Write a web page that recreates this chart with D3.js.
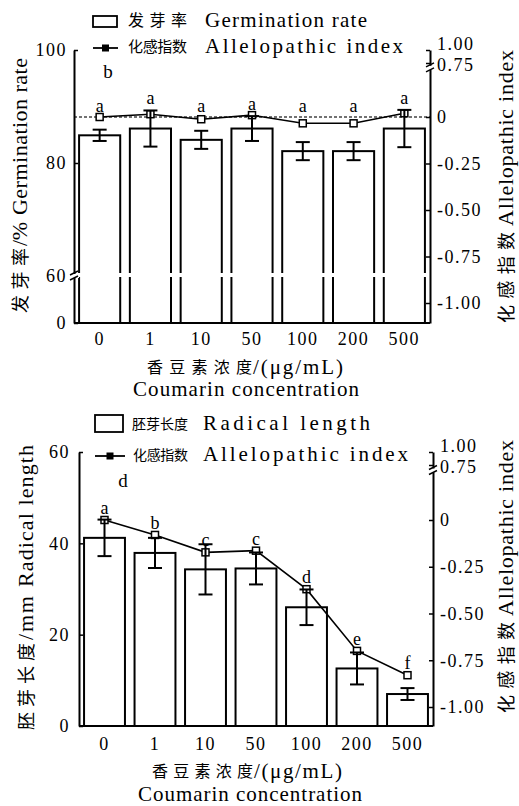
<!DOCTYPE html>
<html>
<head>
<meta charset="utf-8">
<script src="https://cdn.jsdelivr.net/npm/d3@7"></script>
<style>
body { margin: 0; background: #fff; }
svg text { font-family: "Liberation Serif", "Times New Roman", serif; fill: #000; }
svg text.cjk { font-family: "Noto Sans CJK SC", sans-serif; }
</style>
</head>
<body>
<svg id="chart" width="519" height="806"></svg>
<script>
// data
var concentrations = ["0", "1", "10", "50", "100", "200", "500"];

var germRate = [84.9, 86.1, 84.1, 86.1, 82.1, 82.1, 86.1];
var germErr = [1.0, 3.2, 1.6, 2.2, 1.6, 1.6, 3.3];
var germIndex = [0, 0.015, -0.012, 0.01, -0.034, -0.034, 0.02];
var germLetters = ["a", "a", "a", "a", "a", "a", "a"];

var radLength = [41.2, 37.9, 34.3, 34.5, 26.0, 12.6, 7.0];
var radErr = [4.0, 3.3, 5.5, 3.5, 3.9, 3.5, 1.3];
var radIndex = [0, -0.08, -0.173, -0.164, -0.37, -0.70, -0.83];
var radLetters = ["a", "b", "c", "c", "d", "e", "f"];

var germTicks = [0, 60, 80, 100];
var radTicks = [0, 20, 40, 60];
var indexTicks = [-1, -0.75, -0.5, -0.25, 0, 0.75, 1];

var svg = d3.select("#chart");

function hText(g, x, y, str, cls, size, len, anchor) {
    var t = g.append("text")
        .attr("x", x).attr("y", y)
        .attr("class", cls)
        .style("font-size", size + "px")
        .text(str);
    if (len) t.attr("textLength", len).attr("lengthAdjust", "spacing");
    if (anchor) t.attr("text-anchor", anchor);
    return t;
}

function vText(g, x, y, str, cls, size, len) {
    // rotated text, starts at y and reads upwards
    return g.append("text")
        .attr("transform", "translate(" + x + "," + y + ") rotate(-90)")
        .attr("class", cls)
        .style("font-size", size + "px")
        .attr("textLength", len)
        .attr("lengthAdjust", "spacing")
        .text(str);
}

function breakMark(g, x, y) {
    g.append("rect").attr("x", x - 5).attr("y", y - 2).attr("width", 10).attr("height", 4).attr("fill", "#fff");
    g.append("line").attr("x1", x - 4).attr("y1", y - 1).attr("x2", x + 4).attr("y2", y - 5)
        .attr("stroke", "#000").attr("stroke-width", 1.5);
    g.append("line").attr("x1", x - 4).attr("y1", y + 4).attr("x2", x + 4).attr("y2", y)
        .attr("stroke", "#000").attr("stroke-width", 1.5);
}

function drawPanel(p) {
    var g = svg.append("g");

    var x = d3.scaleBand().domain(concentrations).range([p.x0, p.x1])
        .paddingInner(0.19).paddingOuter(0.1);
    var y = d3.scaleLinear().domain(p.leftDomain).range(p.leftRange);
    var yr = d3.scaleLinear().domain(p.rightDomain).range(p.rightRange);
    function cx(i) { return x(concentrations[i]) + x.bandwidth() / 2; }

    // bars
    g.selectAll("rect.bar").data(p.values).enter().append("rect")
        .attr("class", "bar")
        .attr("x", function (d, i) { return x(concentrations[i]); })
        .attr("y", function (d) { return y(d); })
        .attr("width", x.bandwidth())
        .attr("height", function (d) { return p.yB - y(d); })
        .attr("fill", "#fff")
        .attr("stroke", "#000")
        .attr("stroke-width", 2);

    // broken bars (white gap)
    if (p.breakLeft != null) {
        g.append("rect").attr("x", p.x0 + 3).attr("y", y(p.breakLeft) - 3)
            .attr("width", p.x1 - p.x0 - 6).attr("height", 4).attr("fill", "#fff");
    }

    // zero reference line for the index
    if (p.refLine) {
        g.append("line").attr("x1", p.x0).attr("x2", p.x1)
            .attr("y1", yr(0)).attr("y2", yr(0))
            .attr("stroke", "#444").attr("stroke-width", 1.5)
            .attr("stroke-dasharray", "3,2");
    }

    // allelopathic index line
    var line = d3.line()
        .x(function (d, i) { return cx(i); })
        .y(function (d) { return yr(d); });
    g.append("path").datum(p.index)
        .attr("d", line)
        .attr("fill", "none")
        .attr("stroke", "#000")
        .attr("stroke-width", 1.6);
    g.selectAll("rect.pt").data(p.index).enter().append("rect")
        .attr("class", "pt")
        .attr("x", function (d, i) { return cx(i) - 3.5; })
        .attr("y", function (d) { return yr(d) - 3.5; })
        .attr("width", 7).attr("height", 7)
        .attr("fill", "#fff")
        .attr("stroke", "#000")
        .attr("stroke-width", 1.5);

    // error bars
    var eb = g.selectAll("g.err").data(p.values).enter().append("g").attr("class", "err");
    eb.append("line")
        .attr("x1", function (d, i) { return cx(i); })
        .attr("x2", function (d, i) { return cx(i); })
        .attr("y1", function (d, i) { return y(d + p.errs[i]); })
        .attr("y2", function (d, i) { return y(d - p.errs[i]); });
    eb.append("line")
        .attr("x1", function (d, i) { return cx(i) - 7; })
        .attr("x2", function (d, i) { return cx(i) + 7; })
        .attr("y1", function (d, i) { return y(d + p.errs[i]); })
        .attr("y2", function (d, i) { return y(d + p.errs[i]); });
    eb.append("line")
        .attr("x1", function (d, i) { return cx(i) - 7; })
        .attr("x2", function (d, i) { return cx(i) + 7; })
        .attr("y1", function (d, i) { return y(d - p.errs[i]); })
        .attr("y2", function (d, i) { return y(d - p.errs[i]); });
    eb.selectAll("line").attr("stroke", "#000").attr("stroke-width", 2);

    // significance letters
    g.selectAll("text.sig").data(p.letters).enter().append("text")
        .attr("class", "sig")
        .attr("x", function (d, i) { return cx(i); })
        .attr("y", function (d, i) {
            return p.letterY(yr(p.index[i]), y(p.values[i] + p.errs[i]), yr(0));
        })
        .attr("text-anchor", "middle")
        .style("font-size", "18px")
        .text(function (d) { return d; });

    // x axis
    var xAxis = g.append("g")
        .attr("transform", "translate(0," + p.yB + ")")
        .call(d3.axisBottom(x).tickSize(0).tickSizeOuter(0).tickPadding(p.xPad));
    xAxis.select(".domain").attr("stroke-width", 2).attr("d", "M" + p.x0 + ",0H" + p.x1);

    // left axis
    var lAxis = g.append("g")
        .attr("transform", "translate(" + p.x0 + ",0)")
        .call(d3.axisLeft(y).tickValues(p.leftTicks).tickSizeInner(-4).tickSizeOuter(0)
            .tickPadding(p.leftPad).tickFormat(d3.format("d")));
    lAxis.select(".domain").attr("stroke-width", 2);
    lAxis.selectAll(".tick line").attr("stroke-width", 1.5);

    // right axis
    var rAxis = g.append("g")
        .attr("transform", "translate(" + p.x1 + ",0)")
        .call(d3.axisRight(yr).tickValues(indexTicks).tickSizeInner(-4).tickSizeOuter(0)
            .tickPadding(7)
            .tickFormat(function (d) { return d === 0 ? "0" : d.toFixed(2); }));
    rAxis.select(".domain").attr("stroke-width", 2);
    rAxis.selectAll(".tick line").attr("stroke-width", 1.5);
    // the two labels above the break sit very close, spread them a little
    rAxis.selectAll(".tick text")
        .attr("dy", function (d) { return d === 1 ? "-0.05em" : (d === 0.75 ? "0.4em" : "0.32em"); });

    g.selectAll(".tick text")
        .attr("font-family", null)
        .style("font-size", "18px")
        .style("letter-spacing", "1.5px");
    g.selectAll(".domain").attr("stroke", "#000");

    if (p.breakLeft != null) breakMark(g, p.x0, y(p.breakLeft));
    breakMark(g, p.x1, yr(0.27) + 1);

    // panel tag
    hText(g, p.tag[1], p.tag[2], p.tag[0], "", 19, null, "middle");

    // legend
    var L = p.legend;
    g.append("rect").attr("x", L.box[0]).attr("y", L.box[1]).attr("width", L.box[2]).attr("height", L.box[3])
        .attr("fill", "#fff").attr("stroke", "#000").attr("stroke-width", 1.8);
    g.append("line").attr("x1", L.line[0]).attr("x2", L.line[1]).attr("y1", L.line[2]).attr("y2", L.line[2])
        .attr("stroke", "#000").attr("stroke-width", 1.8);
    g.append("rect").attr("x", (L.line[0] + L.line[1]) / 2 - 3.5).attr("y", L.line[2] - 3.5)
        .attr("width", 7).attr("height", 7).attr("fill", "#000");
    L.texts.forEach(function (t) { hText(g, t[0], t[1], t[2], t[3], t[4], t[5]); });

    // axis titles
    p.titles.forEach(function (t) { hText(g, t[0], t[1], t[2], t[3], t[4], t[5]); });
    p.vtitles.forEach(function (t) { vText(g, t[0], t[1], t[2], t[3], t[4], t[5]); });
}

// top panel: germination rate
drawPanel({
    x0: 74, x1: 430, yB: 323,
    leftDomain: [0, 60, 100], leftRange: [323, 276, 50], leftTicks: germTicks, leftPad: 7,
    rightDomain: [-1.1075, 0, 0.27, 0.75, 1], rightRange: [323, 117, 66.8, 63, 50],
    xPad: 9,
    values: germRate, errs: germErr, index: germIndex, letters: germLetters,
    letterY: function (yi, ye, y0) { return Math.min(y0 - 5, ye - 6, yi - 5); },
    breakLeft: 60, refLine: true,
    tag: ["b", 108, 78],
    legend: {
        box: [93, 16, 24, 11],
        line: [93, 118, 48],
        texts: [
            [128, 26, "发芽率", "cjk", 16, 59],
            [205, 27, "Germination rate", "", 21, 162],
            [128, 52, "化感指数", "cjk", 15, 59],
            [205, 53, "Allelopathic index", "", 21, 198]
        ]
    },
    titles: [
        [147, 373, "香豆素浓度", "cjk", 16, 105],
        [253, 374, "/(μg/mL)", "", 21, 90],
        [133, 396, "Coumarin concentration", "", 21, 226]
    ],
    vtitles: [
        [27, 313, "发芽率", "cjk", 18, 65],
        [27, 246, "/%", "", 22, 24],
        [27, 215, "Germination rate", "", 22, 157],
        [513, 323, "化感指数", "cjk", 18, 91],
        [513, 226, "Allelopathic index", "", 22, 176]
    ]
});

// bottom panel: radical length
drawPanel({
    x0: 79, x1: 433, yB: 726,
    leftDomain: [0, 60], leftRange: [726, 452], leftTicks: radTicks, leftPad: 9,
    rightDomain: [-1.1016, 0, 0.27, 0.75, 1], rightRange: [726, 520, 469.5, 465, 452],
    xPad: 11,
    values: radLength, errs: radErr, index: radIndex, letters: radLetters,
    letterY: function (yi) { return yi - 6; },
    breakLeft: null, refLine: false,
    tag: ["d", 123, 487],
    legend: {
        box: [95, 415, 28, 17],
        line: [95, 125, 456],
        texts: [
            [132, 429, "胚芽长度", "cjk", 14, 56],
            [203, 430, "Radical  length", "", 21, 167],
            [133, 460, "化感指数", "cjk", 14, 55],
            [203, 461, "Allelopathic index", "", 21, 205]
        ]
    },
    titles: [
        [152, 777, "香豆素浓度", "cjk", 16, 101],
        [254, 778, "/(μg/mL)", "", 21, 88],
        [138, 801, "Coumarin concentration", "", 21, 224]
    ],
    vtitles: [
        [33, 730, "胚芽长度", "cjk", 18, 87],
        [33, 640, "/mm", "", 22, 44],
        [33, 587, "Radical length", "", 22, 142],
        [513, 713, "化感指数", "cjk", 18, 91],
        [513, 616, "Allelopathic index", "", 22, 176]
    ]
});
</script>
</body>
</html>
